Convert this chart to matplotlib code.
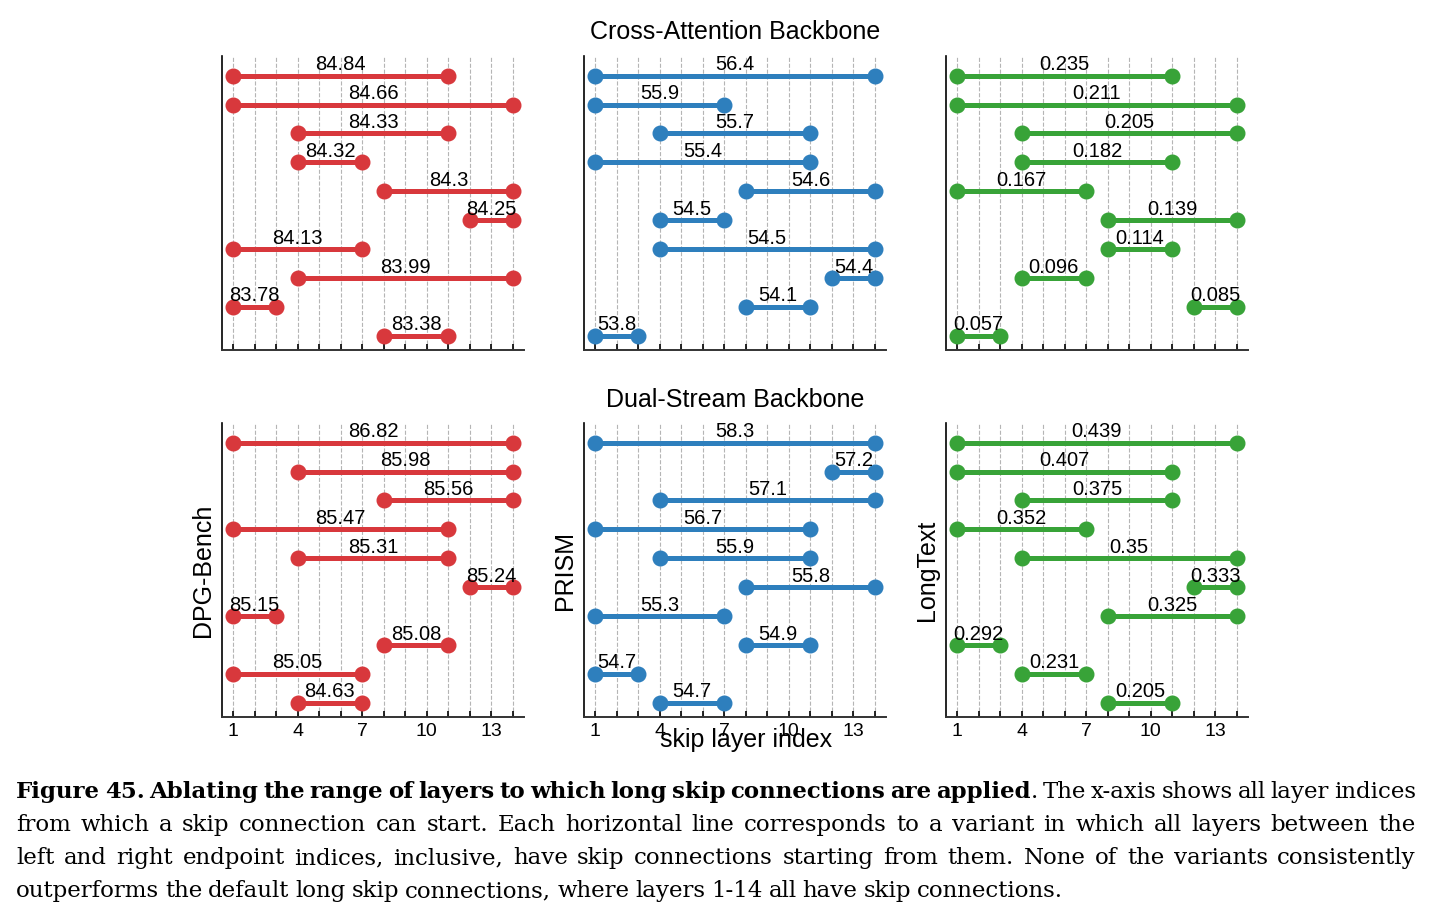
"""
Skip-connection range ablation: dumbbell panels for two backbones and three metrics.
"""

import matplotlib

matplotlib.use("Agg")
import matplotlib.pyplot as plt

# ---- data: (start layer, end layer) and score for each variant, top to bottom ----
ca_dpg_ranges = [(1, 11), (1, 14), (4, 11), (4, 7), (8, 14), (12, 14), (1, 7), (4, 14), (1, 3), (8, 11)]
ca_dpg_scores = [84.84, 84.66, 84.33, 84.32, 84.3, 84.25, 84.13, 83.99, 83.78, 83.38]

ca_prism_ranges = [(1, 14), (1, 7), (4, 11), (1, 11), (8, 14), (4, 7), (4, 14), (12, 14), (8, 11), (1, 3)]
ca_prism_scores = [56.4, 55.9, 55.7, 55.4, 54.6, 54.5, 54.5, 54.4, 54.1, 53.8]

ca_long_ranges = [(1, 11), (1, 14), (4, 14), (4, 11), (1, 7), (8, 14), (8, 11), (4, 7), (12, 14), (1, 3)]
ca_long_scores = [0.235, 0.211, 0.205, 0.182, 0.167, 0.139, 0.114, 0.096, 0.085, 0.057]

ds_dpg_ranges = [(1, 14), (4, 14), (8, 14), (1, 11), (4, 11), (12, 14), (1, 3), (8, 11), (1, 7), (4, 7)]
ds_dpg_scores = [86.82, 85.98, 85.56, 85.47, 85.31, 85.24, 85.15, 85.08, 85.05, 84.63]

ds_prism_ranges = [(1, 14), (12, 14), (4, 14), (1, 11), (4, 11), (8, 14), (1, 7), (8, 11), (1, 3), (4, 7)]
ds_prism_scores = [58.3, 57.2, 57.1, 56.7, 55.9, 55.8, 55.3, 54.9, 54.7, 54.7]

ds_long_ranges = [(1, 14), (1, 11), (4, 11), (1, 7), (4, 14), (12, 14), (8, 14), (1, 3), (4, 7), (8, 11)]
ds_long_scores = [0.439, 0.407, 0.375, 0.352, 0.35, 0.333, 0.325, 0.292, 0.231, 0.205]

metrics = ["DPG-Bench", "PRISM", "LongText"]
backbones = ["Cross-Attention Backbone", "Dual-Stream Backbone"]
layers = list(range(1, 15))
tick_labels = ["1", "4", "7", "10", "13"]

caption_lines = [
    [("Figure 45. Ablating the range of layers to which long skip connections are applied", "bold"),
     (". The x-axis shows all layer indices", "normal")],
    [("from which a skip connection can start. Each horizontal line corresponds to a variant "
      "in which all layers between the", "normal")],
    [("left and right endpoint indices, inclusive, have skip connections starting from them. "
      "None of the variants consistently", "normal")],
    [("outperforms the default long skip connections, where layers 1-14 all have skip connections.", "normal")],
]

colors = ["#d8383c", "#2e7fbd", "#38a338"]

W, H = 1443, 916
plt.rcParams["font.family"] = ["Liberation Sans", "DejaVu Sans"]

fig = plt.figure(figsize=(W / 100, H / 100), dpi=100)

panels = [
    [(ca_dpg_ranges, ca_dpg_scores), (ca_prism_ranges, ca_prism_scores), (ca_long_ranges, ca_long_scores)],
    [(ds_dpg_ranges, ds_dpg_scores), (ds_prism_ranges, ds_prism_scores), (ds_long_ranges, ds_long_scores)],
]

col_left = [222, 584, 946]
row_top = [56, 423]
ax_w, ax_h = 302, 294

for r in range(2):
    for c in range(3):
        ax = fig.add_axes([col_left[c] / W, 1 - (row_top[r] + ax_h) / H, ax_w / W, ax_h / H])
        ranges, scores = panels[r][c]
        for i, ((s, e), v) in enumerate(zip(ranges, scores)):
            ax.plot([s, e], [i, i], color=colors[c], lw=3.6, marker="o", ms=10.5,
                    solid_capstyle="butt", zorder=3)
            ax.text((s + e) / 2, i - 0.18, f"{v:g}", ha="center", va="baseline",
                    fontsize=14.5, zorder=4)
        ax.set_xlim(0.49, 14.51)
        ax.set_ylim(9.5, -0.68)
        ax.set_xticks(layers)
        if r == 1:
            ax.set_xticklabels([str(x) if str(x) in tick_labels else "" for x in layers])
        else:
            ax.set_xticklabels([])
        ax.set_yticks([])
        ax.tick_params(axis="x", direction="in", length=4.5, width=1.2, labelsize=14, pad=4)
        ax.grid(axis="x", linestyle="--", color="#b5b5b5", lw=0.8)
        ax.set_axisbelow(True)
        for side in ["top", "right"]:
            ax.spines[side].set_visible(False)
        ax.spines["left"].set_linewidth(1.2)
        ax.spines["bottom"].set_linewidth(1.4)
        ax.spines["bottom"].set_color("#333333")
        if r == 1:
            fig.text((col_left[c] - 19) / W, 1 - 570 / H, metrics[c], rotation=90,
                     ha="center", va="center", fontsize=18)

fig.text(735 / W, 1 - 32 / H, backbones[0], ha="center", va="center", fontsize=18)
fig.text(735 / W, 1 - 400 / H, backbones[1], ha="center", va="center", fontsize=18)
fig.text(746 / W, 1 - 740 / H, "skip layer index", ha="center", va="center", fontsize=18)

# ---- caption, justified word by word ----
cap_size = 16.5
cap_font = "DejaVu Serif"
renderer = fig.canvas.get_renderer()
x_left, x_right = 16, 1416
baselines = [798, 831, 864, 897]


def _words(line):
    # list of words, each a list of (text, weight) pieces glued together
    words = []
    for text, weight in line:
        parts = text.split(" ")
        for k, p in enumerate(parts):
            if p == "":
                continue
            if k == 0 and words and not text.startswith(" "):
                words[-1].append((p, weight))
            else:
                words.append([(p, weight)])
    return words


for li, line in enumerate(caption_lines):
    y = 1 - baselines[li] / H
    words = _words(line)
    placed = []
    total = 0
    for word in words:
        pieces = []
        for txt, wt in word:
            t = fig.text(0, y, txt, fontsize=cap_size, fontweight=wt,
                         family=cap_font, va="baseline", ha="left")
            pw = t.get_window_extent(renderer).width
            pieces.append((t, pw))
            total += pw
        placed.append(pieces)
    space = 0.26 * cap_size * 100 / 72
    if li < len(caption_lines) - 1:
        gap = max((x_right - x_left - total) / (len(words) - 1), 2)
    else:
        gap = space
    x = x_left
    for pieces in placed:
        for t, pw in pieces:
            t.set_x(x / W)
            x += pw
        x += gap

fig.savefig("out.png", dpi=100)
